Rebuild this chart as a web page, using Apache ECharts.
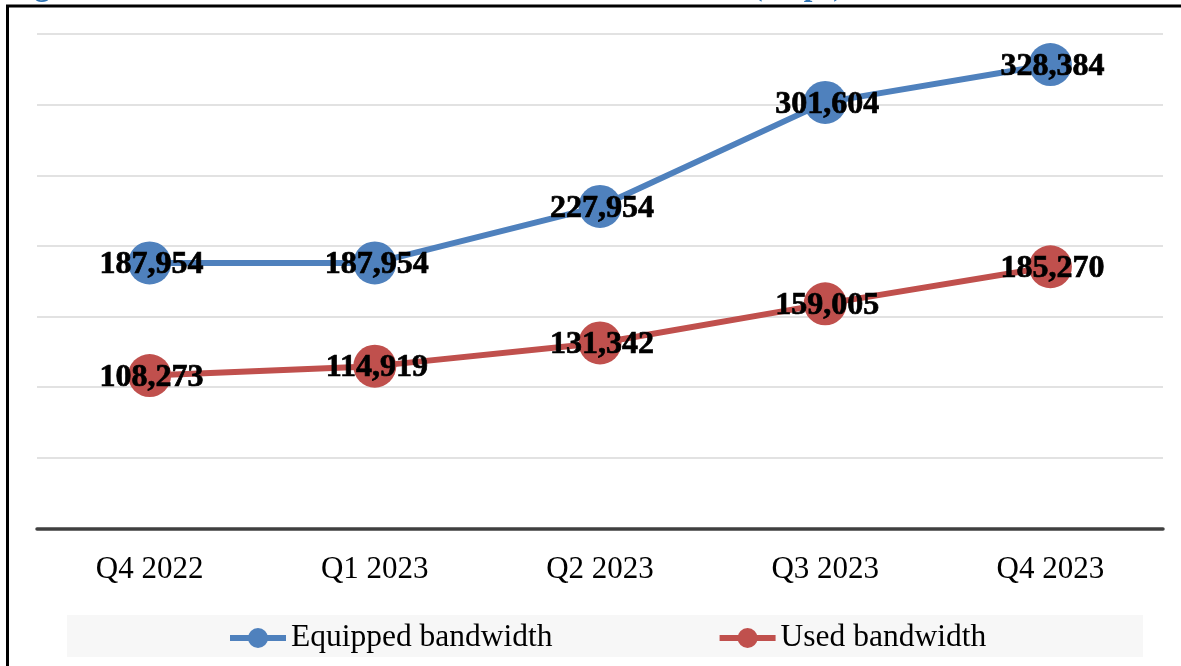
<!DOCTYPE html>
<html>
<head>
<meta charset="utf-8">
<title>International Internet bandwidth</title>
<script src="https://cdn.jsdelivr.net/npm/echarts@6/dist/echarts.min.js"></script>
<style>
  html, body { margin: 0; padding: 0; background: #ffffff; }
  #chart { width: 1181px; height: 666px; }
</style>
</head>
<body>
<div id="chart"></div>
<script>
// Quarters on the horizontal axis
const quarters = ['Q4 2022', 'Q1 2023', 'Q2 2023', 'Q3 2023', 'Q4 2023'];
// Bandwidth in Gbps
const equippedBandwidth = [187954, 187954, 227954, 301604, 328384];
const usedBandwidth = [108273, 114919, 131342, 159005, 185270];
const seriesNames = ['Equipped bandwidth', 'Used bandwidth'];
const titleText = 'Figure 10: International Internet connection bandwidth (Gbps) from Q4 2022 to Q4 2023';

const SERIF = '"Liberation Serif", "Times New Roman", serif';
const BLUE = '#4F81BD';
const RED = '#C0504D';

const chart = echarts.init(document.getElementById('chart'), null, { renderer: 'canvas' });

function fmt(v) {
  return Number(v).toLocaleString('en-US');
}

function lineSeries(name, values, color) {
  return {
    name: name,
    type: 'line',
    data: values,
    symbol: 'circle',
    symbolSize: 43,
    lineStyle: { color: color, width: 6 },
    itemStyle: { color: color },
    z: 3,
    label: {
      show: true,
      position: 'inside',
      offset: [2, 2],
      formatter: p => fmt(p.value),
      color: '#000',
      fontFamily: SERIF,
      fontWeight: 'bold',
      fontSize: 32,
      textBorderColor: '#000',
      textBorderWidth: 0.7
    },
    emphasis: { disabled: true },
    animation: false
  };
}

chart.setOption({
  backgroundColor: '#ffffff',
  animation: false,
  graphic: [
    {
      type: 'text',
      left: 7,
      top: -29,
      silent: true,
      style: {
        text: titleText,
        font: 'bold 31px ' + SERIF,
        fill: '#2E74B5'
      }
    },
    {
      type: 'rect',
      silent: true,
      z: -10,
      shape: { x: 7.5, y: 6, width: 1300, height: 800 },
      style: { fill: 'none', stroke: '#000', lineWidth: 3 }
    },
    {
      type: 'rect',
      silent: true,
      z: -5,
      shape: { x: 67, y: 615, width: 1076, height: 42 },
      style: { fill: '#f7f7f7' }
    }
  ],
  grid: {
    left: 37,
    right: 18,
    top: 34,
    bottom: 137.5,
    containLabel: false
  },
  legend: {
    data: seriesNames,
    left: 227,
    top: 622,
    padding: 0,
    orient: 'horizontal',
    itemWidth: 56,
    itemHeight: 25,
    itemGap: 164,
    selectedMode: false,
    lineStyle: { width: 6 },
    textStyle: {
      color: '#000',
      fontFamily: SERIF,
      fontSize: 31.5,
      lineHeight: 32
    }
  },
  xAxis: {
    type: 'category',
    data: quarters,
    boundaryGap: true,
    axisLine: { show: true, lineStyle: { color: '#404040', width: 3.5 } },
    axisTick: { show: false },
    axisLabel: {
      margin: 26,
      color: '#000',
      fontFamily: SERIF,
      fontSize: 31
    },
    splitLine: { show: false }
  },
  yAxis: {
    type: 'value',
    min: 0,
    max: 350000,
    interval: 50000,
    axisLine: { show: false },
    axisTick: { show: false },
    axisLabel: { show: false },
    splitLine: { show: true, lineStyle: { color: '#d9d9d9', width: 1.5 } }
  },
  series: [
    lineSeries(seriesNames[0], equippedBandwidth, BLUE),
    lineSeries(seriesNames[1], usedBandwidth, RED)
  ]
});
</script>
</body>
</html>
